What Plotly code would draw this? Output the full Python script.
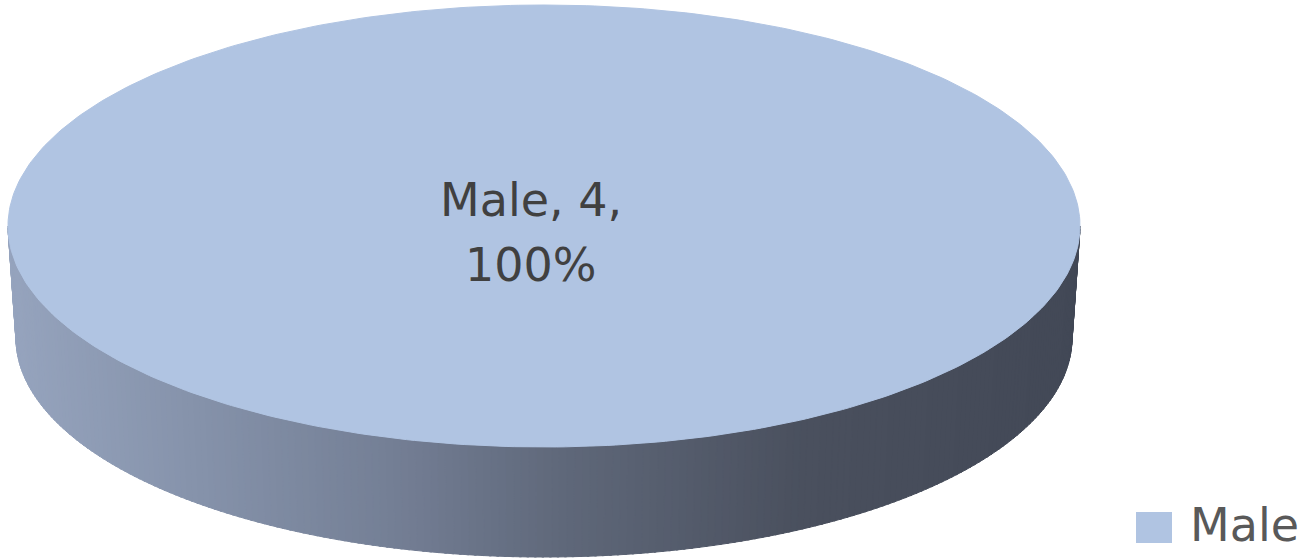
import numpy as np
import plotly.graph_objects as go

# ---- data ----
categories = ["Male"]
values = [4]
slice_colors = ["#b0c4e2"]

total = float(sum(values))
fractions = [v / total for v in values]

W, H = 1314, 560
# geometry of the 3-D disc (pixel space, y downward)
cx, cy, rx, ry = 544, 226, 536, 221          # top face
cxb, cyb, rxb, ryb = 544, 338, 528, 219      # bottom rim

# side-wall shading stops (x position -> rgb)
shade_x = [8, 200, 400, 560, 800, 1080]
shade_rgb = [(150, 164, 190), (133, 146, 170), (115, 126, 148),
             (95, 104, 122), (74, 80, 94), (66, 72, 86)]


def shade(x):
    r = np.interp(x, shade_x, [c[0] for c in shade_rgb])
    g = np.interp(x, shade_x, [c[1] for c in shade_rgb])
    b = np.interp(x, shade_x, [c[2] for c in shade_rgb])
    return "rgb(%d,%d,%d)" % (round(r), round(g), round(b))


fig = go.Figure()

# slice angle ranges (in pixel-space angle t: x = cx + rx cos t, y = cy + ry sin t)
start = -np.pi / 2  # top of ellipse
slices = []
a = start
for f in fractions:
    slices.append((a, a + 2 * np.pi * f))
    a += 2 * np.pi * f

# side wall (front half t in [0, pi]) drawn as shaded strips
for (a0, a1), col in zip(slices, slice_colors):
    lo, hi = max(a0, 0.0), min(a1, np.pi)
    if a1 - a0 >= 2 * np.pi - 1e-9:
        lo, hi = 0.0, np.pi
    if hi <= lo:
        continue
    n = 220
    ts = np.linspace(lo, hi, n + 1)
    for i in range(n):
        t0, t1 = ts[i], min(ts[i + 1] + (hi - lo) / n * 0.3, hi)
        xs = [cx + rx * np.cos(t0), cx + rx * np.cos(t1),
              cxb + rxb * np.cos(t1), cxb + rxb * np.cos(t0)]
        ys = [cy + ry * np.sin(t0), cy + ry * np.sin(t1),
              cyb + ryb * np.sin(t1), cyb + ryb * np.sin(t0)]
        c = shade(np.mean(xs))
        fig.add_trace(go.Scatter(x=xs + [xs[0]], y=ys + [ys[0]], mode="lines",
                                 fill="toself", fillcolor=c,
                                 line=dict(color=c, width=1),
                                 hoverinfo="skip", showlegend=False))

# top faces
for (a0, a1), col, name, v, f in zip(slices, slice_colors, categories, values, fractions):
    t = np.linspace(a0, a1, 400)
    xs = list(cx + rx * np.cos(t))
    ys = list(cy + ry * np.sin(t))
    if f < 1:
        xs = [cx] + xs + [cx]
        ys = [cy] + ys + [cy]
    fig.add_trace(go.Scatter(x=xs, y=ys, mode="lines", fill="toself",
                             fillcolor=col, line=dict(color=col, width=1),
                             name=name, hoverinfo="skip", showlegend=False))

# data labels
font_family = "DejaVu Sans"
for name, v, f in zip(categories, values, fractions):
    fig.add_annotation(x=531, y=200, xref="x", yref="y",
                       text="%s, %d," % (name, v), showarrow=False,
                       font=dict(family=font_family, size=46, color="#404040"))
    fig.add_annotation(x=531, y=265, xref="x", yref="y",
                       text="%d%%" % round(f * 100), showarrow=False,
                       font=dict(family=font_family, size=46, color="#404040"))

# legend (manual, to match the large swatch)
for i, (name, col) in enumerate(zip(categories, slice_colors)):
    fig.add_shape(type="rect", xref="x", yref="y", x0=1136, x1=1172, y0=512, y1=543,
                  fillcolor=col, line=dict(width=0))
    fig.add_annotation(x=1188, y=525, xref="x", yref="y", xanchor="left",
                       text=name, showarrow=False,
                       font=dict(family=font_family, size=46, color="#595959"))

fig.update_layout(width=W, height=H, margin=dict(l=0, r=0, t=0, b=0),
                  paper_bgcolor="white", plot_bgcolor="white", showlegend=False,
                  xaxis=dict(range=[0, W], visible=False, fixedrange=True),
                  yaxis=dict(range=[H, 0], visible=False, fixedrange=True))

fig.write_html("out.html", config={"displayModeBar": False, "staticPlot": True},
               post_script="document.body.style.margin='0';document.body.style.overflow='hidden';")
